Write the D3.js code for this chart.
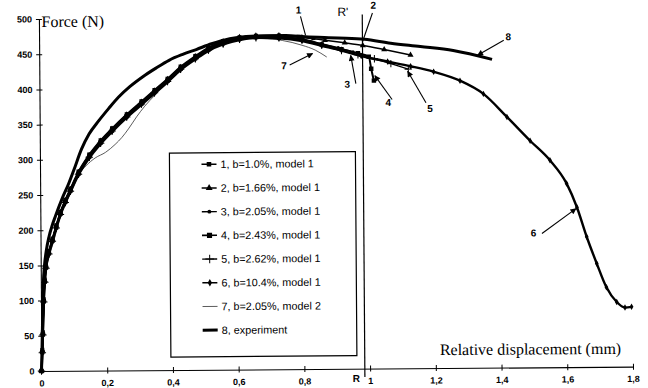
<!DOCTYPE html>
<html>
<head>
<meta charset="utf-8">
<script src="https://cdn.jsdelivr.net/npm/d3@7"></script>
<style>
  html, body { margin: 0; padding: 0; background: #fff; }
  svg { display: block; }
</style>
</head>
<body>
<svg id="chart" width="648" height="388"></svg>
<script>
// ---- axis ticks -------------------------------------------------------
const xTicks = [0, 0.2, 0.4, 0.6, 0.8, 1, 1.2, 1.4, 1.6, 1.8];
const xTickLabels = ["0", "0,2", "0,4", "0,6", "0,8", "1", "1,2", "1,4", "1,6", "1,8"];
const yTicks = [0, 50, 100, 150, 200, 250, 300, 350, 400, 450, 500];
const yTickLabels = ["0", "50", "100", "150", "200", "250", "300", "350", "400", "450", "500"];

// ---- legend entries ---------------------------------------------------
const seriesNames = [
  "1, b=1.0%, model 1",
  "2, b=1.66%, model 1",
  "3, b=2.05%, model 1",
  "4, b=2.43%, model 1",
  "5, b=2.62%, model 1",
  "6, b=10.4%, model 1",
  "7, b=2.05%, model 2",
  "8, experiment"
];

// ---- force (N) vs relative displacement (mm) --------------------------
const curve1 = [[0,0],[0.003,30],[0.005,55],[0.0085,102],[0.012,130],[0.016,150],[0.025,170],[0.036,188],[0.048,207],[0.061,226],[0.076,243],[0.092,259],[0.117,283],[0.15,307],[0.185,327],[0.22,344],[0.265,364],[0.31,382],[0.35,398],[0.39,414],[0.43,431],[0.475,446],[0.515,458],[0.56,467],[0.61,472],[0.66,474],[0.73,474],[0.79,472],[0.835,470]];
const curve2 = [[0,0],[0.003,29],[0.005,54],[0.0085,101],[0.012,129],[0.016,149],[0.025,169],[0.036,187],[0.048,206],[0.061,225],[0.076,242],[0.092,258],[0.117,282],[0.15,306],[0.185,326],[0.22,343],[0.265,363],[0.31,381],[0.35,397],[0.39,413],[0.43,430],[0.475,445],[0.515,457],[0.56,466],[0.61,472],[0.66,474],[0.73,474],[0.8,471],[0.87,467],[0.93,463],[0.985,459],[1.05,453],[1.13,445]];
const curve3 = [[0,0],[0.003,28],[0.005,53],[0.0085,100],[0.012,128],[0.016,148],[0.025,168],[0.036,186],[0.048,205],[0.061,224],[0.076,241],[0.092,257],[0.117,281],[0.15,305],[0.185,325],[0.22,342],[0.265,362],[0.31,380],[0.35,396],[0.39,412],[0.43,429],[0.475,444],[0.515,456],[0.56,465],[0.61,470],[0.66,472],[0.73,472],[0.8,469],[0.86,462],[0.91,456],[0.955,450]];
const curve4 = [[0,0],[0.003,27],[0.005,52],[0.0085,99],[0.012,127],[0.016,147],[0.025,167],[0.036,185],[0.048,204],[0.061,223],[0.076,240],[0.092,256],[0.117,280],[0.15,304],[0.185,324],[0.22,341],[0.265,361],[0.31,379],[0.35,395],[0.39,411],[0.43,428],[0.475,443],[0.515,455],[0.56,464],[0.61,470],[0.66,472],[0.73,471],[0.8,468],[0.86,461],[0.92,454],[0.97,448],[1.003,443],[1.01,426],[1.018,409]];
const curve5 = [[0,0],[0.003,26],[0.005,51],[0.0085,98],[0.012,126],[0.016,146],[0.025,166],[0.036,184],[0.048,203],[0.061,222],[0.076,239],[0.092,255],[0.117,279],[0.15,303],[0.185,323],[0.22,340],[0.265,360],[0.31,378],[0.35,394],[0.39,410],[0.43,427],[0.475,442],[0.515,454],[0.56,463],[0.61,469],[0.66,471],[0.73,471],[0.8,468],[0.86,460],[0.92,452],[0.97,446],[1.02,440],[1.07,433],[1.123,425]];
const curve6 = [[0,0],[0.003,25],[0.005,50],[0.0085,97],[0.012,125],[0.016,145],[0.025,165],[0.036,183],[0.048,202],[0.061,221],[0.076,238],[0.092,254],[0.117,278],[0.15,302],[0.185,322],[0.22,339],[0.265,359],[0.31,377],[0.35,393],[0.39,409],[0.43,426],[0.475,441],[0.515,453],[0.56,462],[0.61,468],[0.66,471],[0.73,470],[0.8,466],[0.86,459],[0.92,452],[0.98,444],[1.06,436],[1.13,429],[1.2,421],[1.28,408],[1.351,389],[1.422,356],[1.492,322],[1.552,294],[1.602,261],[1.633,227],[1.662,185],[1.692,147],[1.721,113],[1.752,92],[1.777,84],[1.797,85]];
const curve7 = [[0,0],[0.003,28],[0.006,60],[0.009,98],[0.013,126],[0.018,147],[0.028,166],[0.04,184],[0.061,220],[0.08,240],[0.1,260],[0.117,278],[0.14,291],[0.168,302],[0.2,310],[0.229,321],[0.25,331],[0.27,343],[0.295,360],[0.32,375],[0.35,390],[0.39,408],[0.43,426],[0.475,442],[0.52,455],[0.57,464],[0.62,469],[0.68,470],[0.74,467],[0.8,460],[0.84,453],[0.875,443]];
const experiment = [[0,0],[0.002,30],[0.004,65],[0.006,100],[0.008,128],[0.011,148],[0.017,170],[0.026,191],[0.036,207],[0.046,220],[0.066,244],[0.087,266],[0.102,284],[0.127,315],[0.15,336],[0.18,355],[0.21,372],[0.24,388],[0.275,403],[0.315,417],[0.355,429],[0.395,440],[0.435,448],[0.478,455],[0.525,463],[0.58,470],[0.63,473],[0.69,474],[0.75,474],[0.81,472],[0.91,470],[0.99,468],[1.07,462],[1.16,457],[1.26,451],[1.378,438]];

// R-R' reference line (x in mm, force span in N)
const refLineX = 0.984;
const refLineSpan = [-12, 503];

// numbered call-outs, anchored in data units
const callouts = [
  { text: "1", at: [0.79, 505],  from: [0.796, 501], to: [0.811, 474], head: false },
  { text: "2", at: [1.018, 511], from: [1.015, 505], to: [0.984, 464], head: false },
  { text: "7", at: [0.745, 426], from: [0.762, 432], to: [0.832, 448], head: true },
  { text: "3", at: [0.937, 399], from: [0.963, 405], to: [0.948, 445], head: true },
  { text: "4", at: [1.061, 373], from: [1.073, 382], to: [1.021, 416], head: true },
  { text: "5", at: [1.188, 364], from: [1.176, 377], to: [1.121, 422], head: true },
  { text: "8", at: [1.428, 465], from: [1.414, 465], to: [1.334, 444], head: true },
  { text: "6", at: [1.5, 186],   from: [1.526, 190], to: [1.63, 225], head: true }
];
const refLabels = [
  { text: "R'", at: [0.925, 501], bold: false, size: 12 },
  { text: "R",  at: [0.958, -19], bold: true,  size: 10 }
];

// ---- drawing ----------------------------------------------------------
const svg = d3.select("#chart");
const plotLeft = 41.5, plotRight = 633, plotTop = 19, plotBottom = 371;
const tilt = -0.42;

const x = d3.scaleLinear().domain([0, 1.8]).range([plotLeft, plotRight]);
const y = d3.scaleLinear().domain([0, 500]).range([plotBottom, plotTop]);

const defs = svg.append("defs");
defs.append("marker")
  .attr("id", "arrowHead")
  .attr("viewBox", "0 0 10 10")
  .attr("refX", 9).attr("refY", 5)
  .attr("markerWidth", 7).attr("markerHeight", 6)
  .attr("markerUnits", "userSpaceOnUse")
  .attr("orient", "auto")
  .append("path").attr("d", "M0,0 L10,5 L0,10 Z").attr("fill", "#000");

const g = svg.append("g")
  .attr("transform", `rotate(${tilt},${plotLeft},${plotBottom})`);

// axes
const xAxis = d3.axisBottom(x)
  .tickValues(xTicks)
  .tickFormat((d, i) => xTickLabels[i])
  .tickSizeInner(3).tickSizeOuter(0).tickPadding(6);
const gx = g.append("g").attr("transform", `translate(0,${plotBottom})`).call(xAxis);
gx.selectAll(".tick line").attr("y1", -3).attr("y2", 3);

const yAxis = d3.axisLeft(y)
  .tickValues(yTicks)
  .tickFormat((d, i) => yTickLabels[i])
  .tickSizeInner(3).tickSizeOuter(0).tickPadding(4);
const gy = g.append("g").attr("transform", `translate(${plotLeft},0)`).call(yAxis);
gy.selectAll(".tick line").attr("x1", -3).attr("x2", 3);

[gx, gy].forEach(a => {
  a.select(".domain").attr("stroke", "#000").attr("stroke-width", 1.1);
  a.selectAll(".tick line").attr("stroke", "#000").attr("stroke-width", 1);
  a.selectAll(".tick text")
    .attr("font-family", "'Liberation Sans', Arial, sans-serif")
    .attr("font-weight", "bold")
    .attr("font-size", 9)
    .attr("fill", "#000");
});

// axis titles
g.append("text")
  .attr("x", 44).attr("y", 27)
  .attr("font-family", "'Liberation Serif', 'Times New Roman', serif")
  .attr("font-size", 16).text("Force (N)");
g.append("text")
  .attr("x", 440).attr("y", 358)
  .attr("font-family", "'Liberation Serif', 'Times New Roman', serif")
  .attr("font-size", 16).text("Relative displacement (mm)");

// reference line R-R'
g.append("line")
  .attr("x1", x(refLineX)).attr("x2", x(refLineX))
  .attr("y1", y(refLineSpan[0])).attr("y2", y(refLineSpan[1]))
  .attr("stroke", "#000").attr("stroke-width", 1.2);

// series styles
const series = [
  { data: curve1, symbol: d3.symbolSquare,   size: 16, width: 1.6 },
  { data: curve2, symbol: d3.symbolTriangle, size: 16, width: 1.5 },
  { data: curve3, symbol: d3.symbolCircle,   size: 9,  width: 1.4 },
  { data: curve4, symbol: d3.symbolSquare,   size: 20, width: 2.0 },
  { data: curve5, symbol: d3.symbolPlus,     size: 20, width: 1.4, strokeSym: true },
  { data: curve6, symbol: d3.symbolDiamond,  size: 12, width: 2.4 },
  { data: curve7, symbol: null, width: 0.8, color: "#333" },
  { data: experiment, symbol: null, width: 3 }
];

const line = d3.line()
  .x(d => x(d[0])).y(d => y(d[1]))
  .curve(d3.curveMonotoneX);

const drawOrder = [6, 0, 1, 2, 3, 4, 5, 7];
drawOrder.forEach(i => {
  const s = series[i];
  const sg = g.append("g").attr("class", "series-" + (i + 1));
  sg.append("path")
    .attr("d", line(s.data))
    .attr("fill", "none")
    .attr("stroke", s.color || "#000")
    .attr("stroke-width", s.width)
    .attr("stroke-linejoin", "round");
  if (s.symbol) {
    const sym = d3.symbol().type(s.symbol).size(s.size);
    sg.selectAll("path.pt").data(s.data).join("path")
      .attr("class", "pt")
      .attr("d", sym)
      .attr("transform", d => `translate(${x(d[0])},${y(d[1])})`)
      .attr("fill", s.strokeSym ? "none" : "#000")
      .attr("stroke", s.strokeSym ? "#000" : "none")
      .attr("stroke-width", 1);
  }
});

// call-outs
callouts.forEach(c => {
  g.append("line")
    .attr("x1", x(c.from[0])).attr("y1", y(c.from[1]))
    .attr("x2", x(c.to[0])).attr("y2", y(c.to[1]))
    .attr("stroke", "#000").attr("stroke-width", 1.1)
    .attr("marker-end", c.head ? "url(#arrowHead)" : null);
  g.append("text")
    .attr("x", x(c.at[0])).attr("y", y(c.at[1]))
    .attr("text-anchor", "middle")
    .attr("font-family", "'Liberation Sans', Arial, sans-serif")
    .attr("font-weight", "bold").attr("font-size", 10)
    .text(c.text);
});
refLabels.forEach(r => {
  g.append("text")
    .attr("x", x(r.at[0])).attr("y", y(r.at[1]))
    .attr("text-anchor", "middle")
    .attr("font-family", "'Liberation Sans', Arial, sans-serif")
    .attr("font-weight", r.bold ? "bold" : "normal")
    .attr("font-size", r.size)
    .text(r.text);
});

// legend
const legend = g.append("g").attr("transform", "translate(171,154)");
legend.append("rect")
  .attr("width", 186).attr("height", 204)
  .attr("fill", "#fff").attr("stroke", "#000").attr("stroke-width", 1.2);
seriesNames.forEach((name, i) => {
  const s = series[i];
  const row = legend.append("g").attr("transform", `translate(0,${11.5 + i * 23.7})`);
  row.append("line")
    .attr("x1", 32).attr("x2", 47)
    .attr("stroke", s.color || "#000")
    .attr("stroke-width", i === 7 ? 3 : Math.min(s.width, 1.6));
  if (s.symbol) {
    row.append("path")
      .attr("d", d3.symbol().type(s.symbol).size(s.size * 1.3)())
      .attr("transform", "translate(39.5,0)")
      .attr("fill", s.strokeSym ? "none" : "#000")
      .attr("stroke", s.strokeSym ? "#000" : "none");
  }
  row.append("text")
    .attr("x", 51).attr("y", 3.8)
    .attr("font-family", "'Liberation Sans', Arial, sans-serif")
    .attr("font-size", 10.8)
    .text(name);
});
</script>
</body>
</html>
